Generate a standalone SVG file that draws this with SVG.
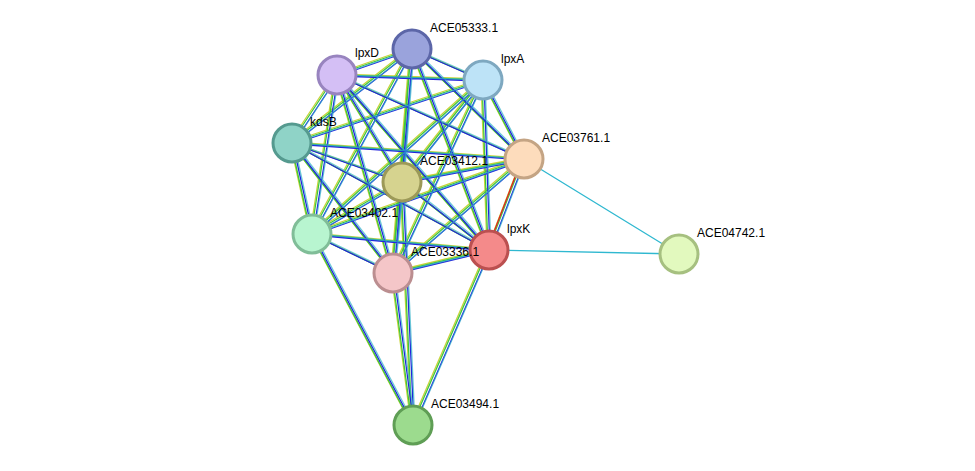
<svg xmlns="http://www.w3.org/2000/svg" xmlns:xlink="http://www.w3.org/1999/xlink" width="975" height="471" viewBox="0 0 975 471">
<style>
.n{stroke-width:3}
.t{font-family:"Liberation Sans",Arial,sans-serif;font-size:12px;fill:#000}
.e{fill:none;stroke-width:1.3}
</style>
<defs>
<path id="cl" d="M412,49L337,75M412,49L483,80M412,49L292,143M412,49L524,159M412,49L402,182M412,49L312,234M412,49L489,250M412,49L393,273M337,75L483,80M337,75L292,143M337,75L524,159M337,75L402,182M337,75L312,234M337,75L489,250M337,75L393,273M483,80L292,143M483,80L524,159M483,80L402,182M483,80L312,234M483,80L489,250M483,80L393,273M292,143L524,159M292,143L402,182M292,143L312,234M292,143L489,250M292,143L393,273M524,159L402,182M524,159L312,234M524,159L489,250M524,159L393,273M402,182L312,234M402,182L489,250M402,182L393,273M312,234L489,250M312,234L393,273M489,250L393,273M413,425L312,234M413,425L393,273M413,425L489,250M413,425L402,182"/>
</defs>
<rect width="975" height="471" fill="#fff"/>
<g id="edges">
<use xlink:href="#cl" class="e" stroke="#c9d43a" transform="translate(-2,-1)"/>
<use xlink:href="#cl" class="e" stroke="#3ec63e" transform="translate(-1,0)"/>
<use xlink:href="#cl" class="e" stroke="#2222dd" transform="translate(1,1)"/>
<use xlink:href="#cl" class="e" stroke="#2fb0c8" transform="translate(2,0)" opacity="0.7"/>
<path class="e" stroke="#e02020" d="M522,159L487,250"/>
<path class="e" stroke="#2fb8d0" d="M524,159L679,254M489,250L679,254"/>
</g>
<g id="n1"><circle class="n" cx="412" cy="49" r="19" fill="#9aa3dc" stroke="#5c66a8"/><text class="t" x="430" y="32">ACE05333.1</text></g>
<g id="n2"><circle class="n" cx="337" cy="75" r="19" fill="#d4bff5" stroke="#9884bf"/><text class="t" x="355" y="57">lpxD</text></g>
<g id="n3"><circle class="n" cx="483" cy="80" r="19" fill="#bde3f7" stroke="#7ea8c0"/><text class="t" x="501" y="63">lpxA</text></g>
<g id="n4"><circle class="n" cx="292" cy="143" r="19" fill="#8fd3c7" stroke="#559a8f"/><text class="t" x="310" y="126">kdsB</text></g>
<g id="n5"><circle class="n" cx="524" cy="159" r="19" fill="#fddcbc" stroke="#c4a484"/><text class="t" x="542" y="142">ACE03761.1</text></g>
<g id="n6"><circle class="n" cx="402" cy="182" r="19" fill="#d6d38f" stroke="#9c9958"/><text class="t" x="420" y="165">ACE03412.1</text></g>
<g id="n7"><circle class="n" cx="312" cy="234" r="19" fill="#b8f5d0" stroke="#80bd98"/><text class="t" x="330" y="217">ACE03402.1</text></g>
<g id="n8"><circle class="n" cx="489" cy="250" r="19" fill="#f48a8a" stroke="#bb5050"/><text class="t" x="507" y="233">lpxK</text></g>
<g id="n9"><circle class="n" cx="393" cy="273" r="19" fill="#f4c6c8" stroke="#bb8e90"/><text class="t" x="411" y="256">ACE03336.1</text></g>
<g id="n10"><circle class="n" cx="679" cy="254" r="19" fill="#e2f9be" stroke="#a6c080"/><text class="t" x="697" y="237">ACE04742.1</text></g>
<g id="n11"><circle class="n" cx="413" cy="425" r="19" fill="#9cdb8e" stroke="#5f9e55"/><text class="t" x="431" y="408">ACE03494.1</text></g>
</svg>
